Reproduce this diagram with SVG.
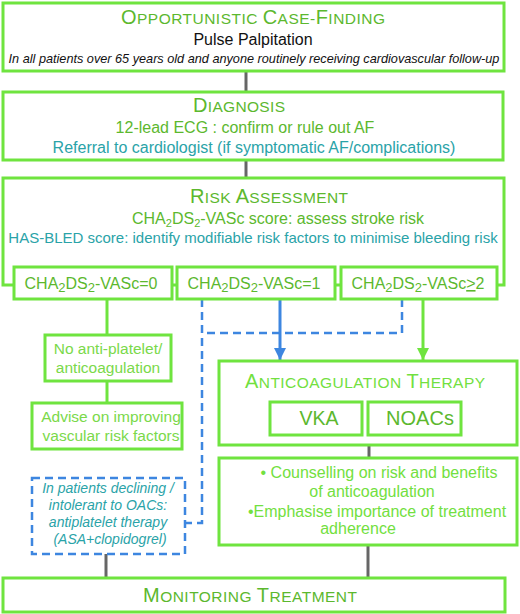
<svg xmlns="http://www.w3.org/2000/svg" width="520" height="614" viewBox="0 0 520 614">
<style>
text{font-family:"Liberation Sans",Arial,sans-serif;}
.box{fill:#fff;stroke:#6fe43f;stroke-width:3;}
.title{fill:#5cb82e;text-anchor:middle;}
.big{font-size:20px;}
.sm{font-size:15.5px;}
.g{fill:#5cb82e;font-size:16px;}
.lg{fill:#7ad94a;font-size:15.5px;}
.cg{fill:#72e040;font-size:16px;}
.teal{fill:#2aa3a8;font-size:16px;}
.it{font-style:italic;font-size:14px;}
.conn{stroke:#666;stroke-width:3;fill:none;}
.gl{stroke:#6fe43f;stroke-width:3;fill:none;}
.bd{stroke:#3d86e0;stroke-width:2.5;fill:none;stroke-dasharray:8,5;}
.bs{stroke:#3d86e0;stroke-width:3;fill:none;}
</style>
<defs>
<marker id="ab" viewBox="0 0 10 10" refX="10" refY="5" markerWidth="4" markerHeight="4" markerUnits="strokeWidth" orient="auto"><path d="M0,0 L10,5 L0,10 z" fill="#3d86e0"/></marker>
<marker id="ag" viewBox="0 0 10 10" refX="10" refY="5" markerWidth="4" markerHeight="4" markerUnits="strokeWidth" orient="auto"><path d="M0,0 L10,5 L0,10 z" fill="#6fe43f"/></marker>
</defs>
<rect width="520" height="614" fill="#fff"/>
<g id="connectors">
<path class="conn" d="M246,71 V92"/>
<path class="conn" d="M246,160 V178"/>
<path class="gl" d="M107,299 V335"/>
<path class="gl" d="M107,381 V403"/>
<path class="bd" d="M202,299 V523 H185"/>
<path class="bd" d="M402,299 V333 H202"/>
<path class="bs" d="M280,299 V360" marker-end="url(#ab)"/>
<path class="gl" d="M423,299 V360" marker-end="url(#ag)"/>
<path class="conn" d="M369,445 V458"/>
<path class="conn" d="M106,554 V578"/>
<path class="conn" d="M368,545 V578"/>
</g>
<g id="case-finding">
<rect class="box" x="3" y="3" width="501" height="68"/>
<text class="title" x="253" y="24" textLength="264" lengthAdjust="spacing"><tspan class="big">O</tspan><tspan class="sm">PPORTUNISTIC </tspan><tspan class="big">C</tspan><tspan class="sm">ASE-</tspan><tspan class="big">F</tspan><tspan class="sm">INDING</tspan></text>
<text x="253" y="45" text-anchor="middle" font-size="16" fill="#111">Pulse Palpitation</text>
<text x="254" y="63" text-anchor="middle" font-size="12.7" font-style="italic" fill="#111">In all patients over 65 years old and anyone routinely receiving cardiovascular follow-up</text>
</g>
<g id="diagnosis">
<rect class="box" x="3" y="92" width="500" height="68"/>
<text class="title" x="239" y="112" textLength="92" lengthAdjust="spacing"><tspan class="big">D</tspan><tspan class="sm">IAGNOSIS</tspan></text>
<text class="g" x="245" y="133" text-anchor="middle">12-lead ECG : confirm or rule out AF</text>
<text class="teal" x="254" y="153" text-anchor="middle">Referral to cardiologist (if symptomatic AF/complications)</text>
</g>
<g id="risk">
<path class="gl" d="M14,285 H3 V178 H504 V285 H497"/>
<path class="gl" d="M172,285 H177 M335,285 H341"/>
<text class="title" x="269" y="203" textLength="158" lengthAdjust="spacing"><tspan class="big">R</tspan><tspan class="sm">ISK </tspan><tspan class="big">A</tspan><tspan class="sm">SSESSMENT</tspan></text>
<text class="g" x="278" y="224" text-anchor="middle">CHA<tspan dy="3" font-size="11">2</tspan><tspan dy="-3">DS</tspan><tspan dy="3" font-size="11">2</tspan><tspan dy="-3">-VASc score: assess stroke risk</tspan></text>
<text class="teal" x="253" y="243" text-anchor="middle" style="font-size:15px">HAS-BLED score: identify modifiable risk factors to minimise bleeding risk</text>
</g>
<g id="chip0">
<rect class="box" x="14" y="267" width="158" height="32"/>
<text class="g" x="91" y="289" text-anchor="middle">CHA<tspan dy="3" font-size="13">2</tspan><tspan dy="-3">DS</tspan><tspan dy="3" font-size="13">2</tspan><tspan dy="-3">-VASc=0</tspan></text>
</g>
<g id="chip1">
<rect class="box" x="177" y="267" width="158" height="32"/>
<text class="g" x="254" y="289" text-anchor="middle">CHA<tspan dy="3" font-size="13">2</tspan><tspan dy="-3">DS</tspan><tspan dy="3" font-size="13">2</tspan><tspan dy="-3">-VASc=1</tspan></text>
</g>
<g id="chip2">
<rect class="box" x="341" y="267" width="156" height="32"/>
<text class="g" x="418" y="289" text-anchor="middle">CHA<tspan dy="3" font-size="13">2</tspan><tspan dy="-3">DS</tspan><tspan dy="3" font-size="13">2</tspan><tspan dy="-3">-VASc</tspan><tspan text-decoration="underline">&gt;</tspan>2</text>
</g>
<g id="no-anti">
<rect class="box" x="45" y="335" width="126" height="46"/>
<text class="lg" x="108" y="354" text-anchor="middle">No anti-platelet/</text>
<text class="lg" x="108" y="373" text-anchor="middle">anticoagulation</text>
</g>
<g id="advise">
<rect class="box" x="32" y="403" width="150" height="46"/>
<text class="lg" x="111" y="422" text-anchor="middle">Advise on improving</text>
<text class="lg" x="111" y="441" text-anchor="middle">vascular risk factors</text>
</g>
<g id="antiplatelet">
<rect x="32" y="478" width="153" height="76" fill="#fff" stroke="#3d86e0" stroke-width="2.5" stroke-dasharray="8,5"/>
<text class="teal it" x="108" y="493" text-anchor="middle">In patients declining /</text>
<text class="teal it" x="108" y="510" text-anchor="middle">intolerant to OACs:</text>
<text class="teal it" x="108" y="527" text-anchor="middle">antiplatelet therapy</text>
<text class="teal it" x="110" y="544" text-anchor="middle">(ASA+clopidogrel)</text>
</g>
<g id="anticoag">
<rect class="box" x="219" y="361" width="298" height="84"/>
<text class="title" x="365" y="388" style="fill:#72e040" textLength="240" lengthAdjust="spacing"><tspan class="big">A</tspan><tspan class="sm">NTICOAGULATION </tspan><tspan class="big">T</tspan><tspan class="sm">HERAPY</tspan></text>
</g>
<g id="vka">
<rect class="box" x="270" y="402" width="92" height="33"/>
<text x="319" y="425" text-anchor="middle" font-size="19.5" fill="#5cb82e">VKA</text>
</g>
<g id="noac">
<rect class="box" x="368" y="402" width="93" height="33"/>
<text x="420" y="425" text-anchor="middle" font-size="20" fill="#5cb82e">NOACs</text>
</g>
<g id="counselling">
<rect class="box" x="219" y="458" width="298" height="87"/>
<text class="cg" x="379" y="478" text-anchor="middle">• Counselling on risk and benefits</text>
<text class="cg" x="372" y="497" text-anchor="middle">of anticoagulation</text>
<text class="cg" x="377" y="517" text-anchor="middle">•Emphasise importance of treatment</text>
<text class="cg" x="358" y="534" text-anchor="middle">adherence</text>
</g>
<g id="monitoring">
<rect class="box" x="3" y="578" width="502" height="34"/>
<text class="title" x="250" y="602" textLength="214" lengthAdjust="spacing"><tspan class="big">M</tspan><tspan class="sm">ONITORING </tspan><tspan class="big">T</tspan><tspan class="sm">REATMENT</tspan></text>
</g>
</svg>
